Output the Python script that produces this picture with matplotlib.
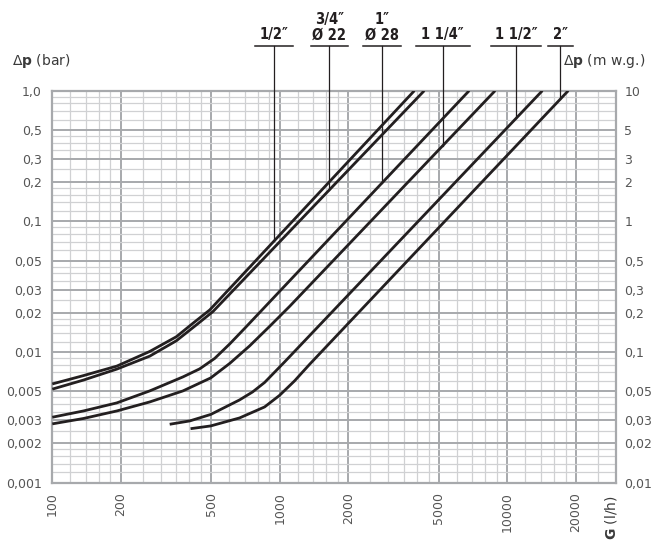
import numpy as np
import matplotlib
matplotlib.use("Agg")
import matplotlib.pyplot as plt
from matplotlib.ticker import FixedLocator, NullFormatter, FixedFormatter
from matplotlib.lines import Line2D

# ---------------- data (flow G in l/h, pressure drop in bar) ----------------
flow_half = [100, 137, 192, 268, 351, 415, 492, 3900]
dp_half = [0.0057, 0.0066, 0.0078, 0.0101, 0.0131, 0.0166, 0.021, 1.0]
flow_3q = [100, 137, 192, 268, 351, 429, 508, 4310]
dp_3q = [0.0052, 0.0061, 0.0074, 0.0093, 0.0122, 0.0161, 0.0204, 1.0]
flow_1 = [100, 137, 192, 268, 375, 444, 517, 602, 700, 6790]
dp_1 = [0.00317, 0.00354, 0.00408, 0.00504, 0.00645, 0.00743, 0.00893, 0.01153, 0.01516, 1.0]
flow_114 = [100, 137, 192, 268, 375, 497, 602, 736, 901, 1103, 8830]
dp_114 = [0.00282, 0.0031, 0.00354, 0.00415, 0.00504, 0.00634, 0.00818, 0.01113, 0.0157, 0.02233, 1.0]
flow_112 = [328, 402, 497, 665, 759, 857, 1049, 14240]
dp_112 = [0.0028, 0.00297, 0.00333, 0.0043, 0.00495, 0.00585, 0.0084, 1.0]
flow_2 = [405, 497, 665, 857, 997, 1160, 1350, 18510]
dp_2 = [0.00259, 0.00272, 0.00313, 0.0038, 0.00466, 0.00601, 0.00804, 1.0]

curve_labels = ["1/2\u2033", "3/4\u2033\n\u00d8 22", "1\u2033\n\u00d8 28",
                "1 1/4\u2033", "1 1/2\u2033", "2\u2033"]
leader_flow = [940, 1650, 2800, 5200, 10900, 17100]

x_ticks = [100, 200, 500, 1000, 2000, 5000, 10000, 20000]
x_ticklabels = ["100", "200", "500", "1000", "2000", "5000", "10000", "20000"]
x_minor = [120, 140, 160, 180, 250, 300, 350, 400, 450, 600, 700, 800, 900,
           1200, 1400, 1600, 1800, 2500, 3000, 3500, 4000, 4500,
           6000, 7000, 8000, 9000, 12000, 14000, 16000, 18000, 25000]
y_ticks = [1.0, 0.5, 0.3, 0.2, 0.1, 0.05, 0.03, 0.02, 0.01,
           0.005, 0.003, 0.002, 0.001]
y_ticklabels_bar = ["1,0", "0,5", "0,3", "0,2", "0,1", "0,05", "0,03", "0,02",
                    "0,01", "0,005", "0,003", "0,002", "0,001"]
y_ticklabels_mwg = ["10", "5", "3", "2", "1", "0,5", "0,3", "0,2", "0,1",
                    "0,05", "0,03", "0,02", "0,01"]
y_minor = [0.9, 0.8, 0.7, 0.6, 0.45, 0.4, 0.35, 0.25, 0.18, 0.16, 0.14, 0.12,
           0.09, 0.08, 0.07, 0.06, 0.045, 0.04, 0.035, 0.025, 0.018, 0.016, 0.014, 0.012,
           0.009, 0.008, 0.007, 0.006, 0.0045, 0.004, 0.0035, 0.0025, 0.0018, 0.0016,
           0.0014, 0.0012]

curves = [(flow_half, dp_half), (flow_3q, dp_3q), (flow_1, dp_1),
          (flow_114, dp_114), (flow_112, dp_112), (flow_2, dp_2)]

# ---------------- figure ----------------
W, H = 653, 546
fig = plt.figure(figsize=(W / 100, H / 100), dpi=100)
left, right, top, bottom = 52.3, 616.0, 90.7, 482.7
ax = fig.add_axes([left / W, 1 - bottom / H, (right - left) / W, (bottom - top) / H])

ax.set_xscale("log")
ax.set_yscale("log")
ax.set_xlim(100, 30000)
ax.set_ylim(0.001, 1.0)

ink = "#231f20"
txt_gray = "#555555"
major_grid = "#a7a9ac"
minor_grid = "#d0d1d3"

ax.xaxis.set_major_locator(FixedLocator(x_ticks))
ax.xaxis.set_major_formatter(FixedFormatter(x_ticklabels))
ax.xaxis.set_minor_locator(FixedLocator(x_minor))
ax.xaxis.set_minor_formatter(NullFormatter())
ax.yaxis.set_major_locator(FixedLocator(y_ticks))
ax.yaxis.set_major_formatter(FixedFormatter(y_ticklabels_bar))
ax.yaxis.set_minor_locator(FixedLocator(y_minor))
ax.yaxis.set_minor_formatter(NullFormatter())

ax.set_axisbelow(True)
ax.grid(which="minor", color=minor_grid, lw=0.9)
ax.grid(which="major", color=major_grid, lw=1.4)
for s in ax.spines.values():
    s.set_color(major_grid)
    s.set_linewidth(1.6)

ax.tick_params(which="both", length=0)
ax.tick_params(axis="y", labelsize=9, labelcolor=txt_gray, pad=7.5)
ax.tick_params(axis="x", labelsize=9, labelcolor=txt_gray, pad=7, labelrotation=90)

# right axis (m w.g.)
ax2 = ax.twinx()
ax2.set_yscale("log")
ax2.set_ylim(ax.get_ylim())
ax2.yaxis.set_major_locator(FixedLocator(y_ticks))
ax2.yaxis.set_major_formatter(FixedFormatter(y_ticklabels_mwg))
ax2.yaxis.set_minor_locator(FixedLocator([]))
ax2.tick_params(which="both", length=0)
ax2.tick_params(axis="y", labelsize=9, labelcolor=txt_gray, pad=6)
for s in ax2.spines.values():
    s.set_visible(False)

# curves
for fx, fy in curves:
    ax.plot(fx, fy, color=ink, lw=2.0, solid_capstyle="butt",
            solid_joinstyle="round", zorder=3)

# leaders & size labels
fig.canvas.draw()
half_w_px = [19, 18.5, 19, 27, 25, 12.5]
line_y_px = 45.7        # underline height (pixels from top)
text_y_px = 42.5        # text bottom (pixels from top)
for (fx, fy), lx, lab, hw in zip(curves, leader_flow, curve_labels, half_w_px):
    yc = 10 ** np.interp(np.log10(lx), np.log10(fx), np.log10(fy))
    disp = ax.transData.transform([(lx, yc)])[0]
    x_pix = disp[0]
    y_bottom = disp[1]
    y_under = H - line_y_px
    fig.add_artist(Line2D([x_pix / W, x_pix / W], [y_bottom / H, y_under / H],
                          transform=fig.transFigure, color=ink, lw=0.9))
    fig.add_artist(Line2D([(x_pix - hw) / W, (x_pix + hw) / W], [y_under / H, y_under / H],
                          transform=fig.transFigure, color=ink, lw=1.1))
    fig.text(x_pix / W, (H - text_y_px) / H, lab, ha="center", va="bottom",
             fontsize=10.5, fontweight="bold", color=ink, family="DejaVu Sans",
             fontstretch="condensed", linespacing=1.05)

# axis titles
fig.text(12 / W, 1 - 61 / H, r"$\Delta\mathbf{p}$ (bar)", ha="left", va="center",
         fontsize=10, color="#3a3a3a")
fig.text(563 / W, 1 - 61 / H, r"$\Delta\mathbf{p}$ (m w.g.)", ha="left", va="center",
         fontsize=10, color="#3a3a3a")
fig.text(611 / W, 1 - 540 / H, r"$\mathbf{G}$ (l/h)", ha="center", va="bottom",
         rotation=90, fontsize=10, color="#3a3a3a")

fig.savefig("out.png", dpi=100, facecolor="white")
